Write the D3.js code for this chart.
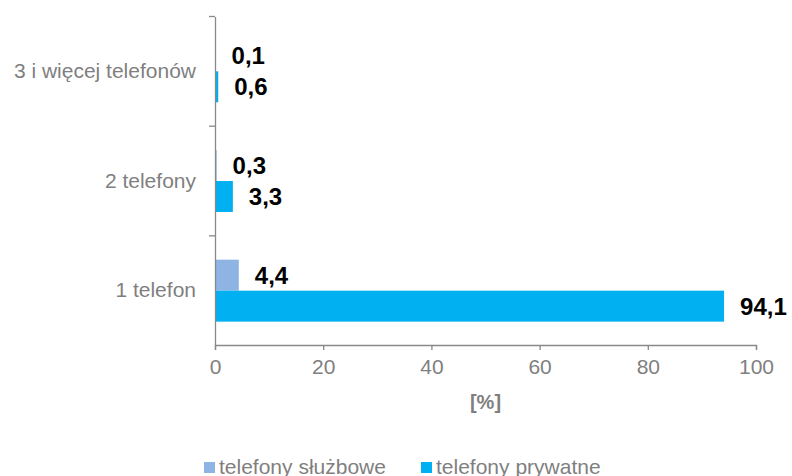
<!DOCTYPE html>
<html>
<head>
<meta charset="utf-8">
<script src="https://cdn.jsdelivr.net/npm/d3@7"></script>
<style>
  body { margin: 0; background: #fff; }
  svg { font-family: "Liberation Sans", Arial, sans-serif; }
</style>
</head>
<body>
<div id="chart"></div>
<script>
// categories from bottom to top, as in the picture
var categories = ["1 telefon", "2 telefony", "3 i więcej telefonów"];
var seriesNames = ["telefony służbowe", "telefony prywatne"];
var sluzbowe = [4.4, 0.3, 0.1];
var prywatne = [94.1, 3.3, 0.6];
var xTicks = [0, 20, 40, 60, 80, 100];

var colors = ["#8EB4E3", "#00B0F0"];
var axisColor = "#898989";
var textColor = "#7F7F7F";

var width = 792, height = 476;
var margin = {top: 16.5, right: 36, bottom: 131, left: 215};

var svg = d3.select("#chart").append("svg")
    .attr("width", width)
    .attr("height", height);

var x = d3.scaleLinear()
    .domain([0, 100])
    .range([margin.left, 756]);

// top to bottom order
var y = d3.scaleBand()
    .domain(categories.slice().reverse())
    .range([margin.top, height - margin.bottom + 0.5]);

var ySub = d3.scaleBand()
    .domain(seriesNames)
    .range([0, y.bandwidth()])
    .paddingOuter(0.77);

var rows = categories.map(function (c, i) {
  return {cat: c, values: [sluzbowe[i], prywatne[i]]};
});

var fmt = function (v) { return d3.format(".1f")(v).replace(".", ","); };

// bars
var groups = svg.selectAll("g.cat")
  .data(rows)
  .enter().append("g")
    .attr("class", "cat")
    .attr("transform", function (d) { return "translate(0," + y(d.cat) + ")"; });

groups.selectAll("rect")
  .data(function (d) { return d.values.map(function (v, i) { return {s: seriesNames[i], v: v, i: i}; }); })
  .enter().append("rect")
    .attr("x", x(0))
    .attr("y", function (d) { return ySub(d.s); })
    .attr("width", function (d) { return x(d.v) - x(0); })
    .attr("height", ySub.bandwidth())
    .attr("fill", function (d) { return colors[d.i]; });

groups.selectAll("text.lbl")
  .data(function (d) { return d.values.map(function (v, i) { return {s: seriesNames[i], v: v, i: i}; }); })
  .enter().append("text")
    .attr("class", "lbl")
    .attr("x", function (d) { return x(d.v) + 16; })
    .attr("y", function (d) { return ySub(d.s) + ySub.bandwidth() / 2; })
    .attr("dy", "0.36em")
    .attr("font-size", 24)
    .attr("font-weight", "bold")
    .attr("fill", "#000")
    .text(function (d) { return fmt(d.v); });

// x axis
var xAxis = svg.append("g")
    .attr("transform", "translate(0," + (height - margin.bottom) + ")")
    .call(d3.axisBottom(x).tickValues(xTicks).tickSize(5).tickSizeOuter(5).tickPadding(9));

// y axis
var yAxis = svg.append("g")
    .attr("transform", "translate(" + margin.left + ",0)")
    .call(d3.axisLeft(y).tickSize(0).tickSizeOuter(0).tickPadding(19));

// boundary ticks between categories
svg.append("g").selectAll("line")
  .data(y.domain())
  .enter().append("line")
    .attr("x1", margin.left - 6)
    .attr("x2", margin.left)
    .attr("y1", function (d) { return y(d); })
    .attr("y2", function (d) { return y(d); })
    .attr("stroke", axisColor)
    .attr("stroke-width", 1.3);

[xAxis, yAxis].forEach(function (a) {
  a.selectAll("path, line").attr("stroke", axisColor).attr("stroke-width", 1.3);
  a.selectAll("text").attr("fill", textColor).attr("font-size", 21)
    .attr("font-family", "Liberation Sans, Arial, sans-serif");
});

// x title
svg.append("text")
    .attr("x", (x(0) + x(100)) / 2)
    .attr("y", 409)
    .attr("text-anchor", "middle")
    .attr("font-size", 20)
    .attr("font-weight", "bold")
    .attr("fill", textColor)
    .text("[%]");

// legend
var legendX = [204, 421];
var legend = svg.selectAll("g.legend")
  .data(seriesNames)
  .enter().append("g")
    .attr("class", "legend")
    .attr("transform", function (d, i) { return "translate(" + legendX[i] + ",462)"; });

legend.append("rect")
    .attr("width", 11)
    .attr("height", 11)
    .attr("fill", function (d, i) { return colors[i]; });

legend.append("text")
    .attr("x", 15)
    .attr("y", 11.5)
    .attr("font-size", 21)
    .attr("fill", textColor)
    .text(function (d) { return d; });
</script>
</body>
</html>
